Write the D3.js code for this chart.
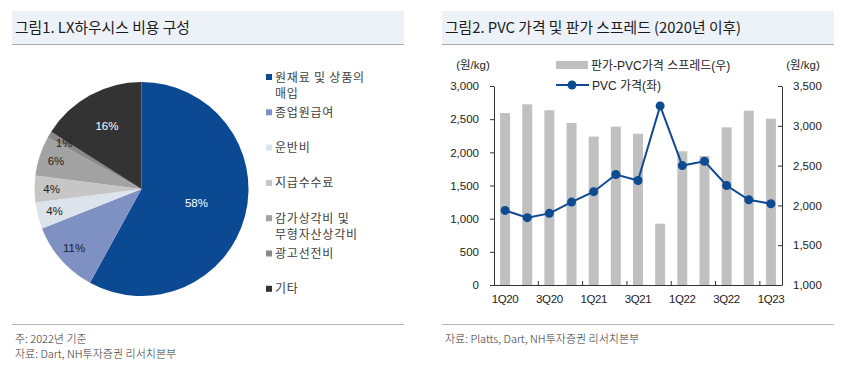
<!DOCTYPE html>
<html>
<head>
<meta charset="utf-8">
<script src="https://cdn.jsdelivr.net/npm/d3@7"></script>
<style>
  body { margin: 0; background: #fff; }
  svg { display: block; font-family: "Liberation Sans", "Noto Sans CJK KR", sans-serif; }
</style>
</head>
<body>
<div id="chart"></div>
<script>
// left panel: cost breakdown (2022)
const costLabels = [["원재료 및 상품의", "매입"], ["종업원급여"], ["운반비"], ["지급수수료"],
  ["감가상각비 및", "무형자산상각비"], ["광고선전비"], ["기타"]];
const costShares = [58, 11, 4, 4, 6, 1, 16];
const costColors = ["#0b4a92", "#7e91c2", "#dce3eb", "#c6c6c6", "#a2a2a2", "#8a8a8a", "#333333"];

// right panel: PVC price vs spread
const quarters = ["1Q20", "2Q20", "3Q20", "4Q20", "1Q21", "2Q21", "3Q21", "4Q21",
  "1Q22", "2Q22", "3Q22", "4Q22", "1Q23"];
const spread = [3160, 3270, 3195, 3035, 2865, 2990, 2900, 1770, 2680, 2620, 2980, 3190, 3090]; // 우
const pvcPrice = [1125, 1015, 1080, 1250, 1407, 1665, 1575, 2700, 1800, 1865, 1500, 1285, 1225]; // 좌
const leftTicks = [0, 500, 1000, 1500, 2000, 2500, 3000];
const rightTicks = [1000, 1500, 2000, 2500, 3000, 3500];
const xLabels = ["1Q20", "3Q20", "1Q21", "3Q21", "1Q22", "3Q22", "1Q23"];

const width = 852, height = 375;
const svg = d3.select("#chart").append("svg")
  .attr("width", width)
  .attr("height", height);

// title bars + footers
const panels = [
  { x: 12, title: "그림1. LX하우시스 비용 구성", notes: ["주: 2022년 기준", "자료: Dart, NH투자증권 리서치본부"] },
  { x: 442, title: "그림2. PVC 가격 및 판가 스프레드 (2020년 이후)", notes: ["자료: Platts, Dart, NH투자증권 리서치본부"] }
];
panels.forEach(p => {
  svg.append("rect").attr("x", p.x).attr("y", 11).attr("width", 392).attr("height", 33).attr("fill", "#edf2f9");
  svg.append("line").attr("x1", p.x).attr("x2", p.x + 392).attr("y1", 44.5).attr("y2", 44.5)
    .attr("stroke", "#a8acb2").attr("stroke-width", 1);
  svg.append("text").attr("x", p.x + 3).attr("y", 33)
    .attr("font-family", "Noto Sans CJK KR").attr("font-size", 14.8).attr("fill", "#1a1a1a")
    .text(p.title);
  svg.append("line").attr("x1", p.x).attr("x2", p.x + 392).attr("y1", 324.5).attr("y2", 324.5)
    .attr("stroke", "#b5b5b5").attr("stroke-width", 1);
  p.notes.forEach((n, i) => {
    svg.append("text").attr("x", p.x + 3).attr("y", 343 + i * 15)
      .attr("font-family", "Noto Sans CJK KR").attr("font-size", 11).attr("fill", "#333")
      .attr("font-weight", 300)
      .text(n);
  });
});

// ---- pie ----
const cx = 141.5, cy = 189, radius = 107;
const pieData = costShares.map((v, i) => ({ label: costLabels[i], value: v, color: costColors[i] }));
const arcs = d3.pie().sort(null).value(d => d.value)(pieData);
const arc = d3.arc().innerRadius(0).outerRadius(radius);

const pieG = svg.append("g").attr("transform", `translate(${cx},${cy})`);
pieG.selectAll("path")
  .data(arcs)
  .join("path")
  .attr("fill", d => d.data.color)
  .attr("d", arc);

// label distance depends on slice size (big slices get pulled inward)
const labelR = d => d.data.value >= 50 ? radius * 0.53 : d.data.value >= 15 ? radius * 0.67 : radius * 0.84;
pieG.selectAll("text")
  .data(arcs)
  .join("text")
  .attr("transform", d => {
    const r = labelR(d);
    return `translate(${d3.arc().innerRadius(r).outerRadius(r).centroid(d)})`;
  })
  .attr("text-anchor", "middle")
  .attr("dy", "0.35em")
  .attr("font-size", 11.5)
  .attr("fill", d => (d.data.value >= 15 ? "#fff" : "#222"))
  .text(d => d.data.value + "%");

// legend
const legG = svg.append("g").attr("transform", "translate(266,77)");
const legItem = legG.selectAll("g")
  .data(pieData)
  .join("g")
  .attr("transform", (d, i) => `translate(0,${i * 35.3})`);
legItem.append("rect")
  .attr("x", 0).attr("y", -3).attr("width", 6).attr("height", 6)
  .attr("fill", d => d.color);
legItem.append("text")
  .attr("font-family", "Noto Sans CJK KR")
  .attr("font-size", 12)
  .attr("letter-spacing", 0.8)
  .attr("fill", "#404040")
  .selectAll("tspan")
  .data(d => d.label)
  .join("tspan")
  .attr("x", 9)
  .attr("y", (d, i) => i * 16 + 4.5)
  .text(d => d);

// ---- combo chart ----
const x = d3.scaleBand().domain(quarters).range([494, 782]).paddingInner(0.55).paddingOuter(0.275);
const yL = d3.scaleLinear().domain([0, 3000]).range([285, 86]);
const yR = d3.scaleLinear().domain([1000, 3500]).range([285, 86]);
const blue = "#0d4a92";

svg.append("g")
  .selectAll("rect")
  .data(spread)
  .join("rect")
  .attr("x", (d, i) => x(quarters[i]))
  .attr("width", x.bandwidth())
  .attr("y", d => yR(d))
  .attr("height", d => yR(1000) - yR(d))
  .attr("fill", "#c0c0c0");

const axisL = svg.append("g")
  .attr("transform", "translate(494,0)")
  .call(d3.axisLeft(yL).tickValues(leftTicks).tickFormat(d3.format(",")).tickSizeInner(4).tickSizeOuter(0).tickPadding(11));
const axisR = svg.append("g")
  .attr("transform", "translate(782,0)")
  .call(d3.axisRight(yR).tickValues(rightTicks).tickFormat(d3.format(",")).tickSizeInner(-4).tickSizeOuter(0).tickPadding(11));
[axisL, axisR].forEach(a => {
  a.selectAll(".domain, line").attr("stroke", "#333");
  a.selectAll("text").attr("font-size", 11.5).attr("fill", "#222").attr("font-family", "Liberation Sans");
});

// x axis
const xAxis = svg.append("g");
xAxis.append("line").attr("x1", 494).attr("x2", 782).attr("y1", 285.5).attr("y2", 285.5).attr("stroke", "#333");
const step = x.step();
xAxis.selectAll("line.tick")
  .data(d3.range(2, quarters.length, 2))
  .join("line")
  .attr("class", "tick")
  .attr("x1", k => x.range()[0] + k * step)
  .attr("x2", k => x.range()[0] + k * step)
  .attr("y1", 285).attr("y2", 281)
  .attr("stroke", "#333");
xAxis.selectAll("text")
  .data(xLabels)
  .join("text")
  .attr("x", d => x(d) + x.bandwidth() / 2)
  .attr("y", 303)
  .attr("text-anchor", "middle")
  .attr("font-size", 11.5)
  .attr("letter-spacing", -0.4)
  .attr("fill", "#222")
  .text(d => d);

// line
const line = d3.line()
  .x((d, i) => x(quarters[i]) + x.bandwidth() / 2)
  .y(d => yL(d));
svg.append("path")
  .datum(pvcPrice)
  .attr("fill", "none")
  .attr("stroke", blue)
  .attr("stroke-width", 2)
  .attr("d", line);
svg.append("g")
  .selectAll("circle")
  .data(pvcPrice)
  .join("circle")
  .attr("cx", (d, i) => x(quarters[i]) + x.bandwidth() / 2)
  .attr("cy", d => yL(d))
  .attr("r", 4.5)
  .attr("fill", blue);

// unit labels
svg.append("text").attr("x", 473).attr("y", 69).attr("text-anchor", "middle")
  .attr("font-size", 11.5).attr("fill", "#222").text("(원/kg)");
svg.append("text").attr("x", 803).attr("y", 69).attr("text-anchor", "middle")
  .attr("font-size", 11.5).attr("fill", "#222").text("(원/kg)");

// legend
svg.append("rect").attr("x", 556).attr("y", 61).attr("width", 32).attr("height", 8).attr("fill", "#c0c0c0");
svg.append("text").attr("x", 591).attr("y", 69.5).attr("font-size", 12).attr("fill", "#222")
  .text("판가-PVC가격 스프레드(우)");
svg.append("line").attr("x1", 556).attr("x2", 589).attr("y1", 85).attr("y2", 85)
  .attr("stroke", blue).attr("stroke-width", 2);
svg.append("circle").attr("cx", 572).attr("cy", 85).attr("r", 4.5).attr("fill", blue);
svg.append("text").attr("x", 592).attr("y", 89.5).attr("font-size", 12).attr("fill", "#222")
  .text("PVC 가격(좌)");
</script>
</body>
</html>
